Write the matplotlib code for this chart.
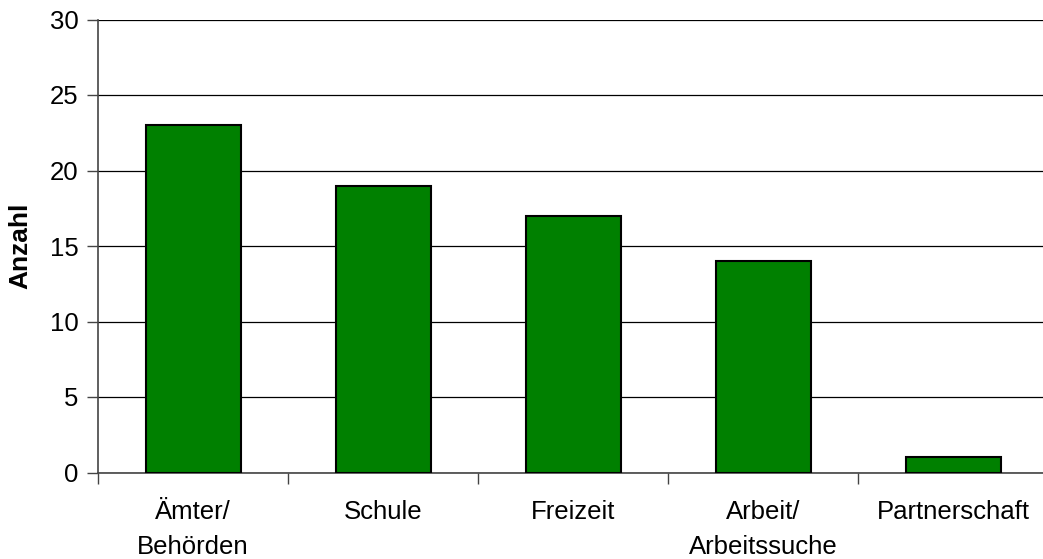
import matplotlib
matplotlib.use("Agg")
import matplotlib.pyplot as plt
import numpy as np

categories = ["Ämter/\nBehörden", "Schule", "Freizeit", "Arbeit/\nArbeitssuche", "Partnerschaft"]
counts = [23, 19, 17, 14, 1]
yticks = [0, 5, 10, 15, 20, 25, 30]

plt.rcParams["font.family"] = ["Liberation Sans", "DejaVu Sans"]
plt.rcParams["font.size"] = 18.5

W, H = 1043, 559
fig = plt.figure(figsize=(W / 100, H / 100), dpi=100)
# plot area runs a little past the right edge of the canvas
ax = fig.add_axes([98 / W, 1 - 472.5 / H, (1048 - 98) / W, (472.5 - 19.5) / H])

x = np.arange(len(categories))
ax.bar(x, counts, width=0.5, color="#008000", edgecolor="black", linewidth=1.5, zorder=3)

ax.set_xlim(-0.5, len(categories) - 0.5)
ax.set_ylim(0, 30)
ax.set_yticks(yticks)
ax.yaxis.grid(True, color="black", linewidth=0.9, zorder=0)
ax.set_axisbelow(True)

# category labels sit between the boundary ticks
ax.set_xticks(np.arange(len(categories) + 1) - 0.5)
ax.set_xticklabels([])
ax.set_xticks(x, minor=True)
ax.set_xticklabels(categories, minor=True, linespacing=1.55)
ax.tick_params(axis="x", which="minor", length=0, pad=20)
ax.tick_params(axis="x", which="major", length=8, width=1, color="#444444")
ax.tick_params(axis="y", length=8, width=1, color="#444444", pad=6)

for side in ["top", "right"]:
    ax.spines[side].set_visible(False)
for side in ["left", "bottom"]:
    ax.spines[side].set_color("#444444")
    ax.spines[side].set_linewidth(1.2)

ax.set_ylabel("Anzahl", fontweight="bold", fontsize=19)
ax.yaxis.set_label_coords(-66 / 950, 0.5)

fig.savefig("out.png", dpi=100)
